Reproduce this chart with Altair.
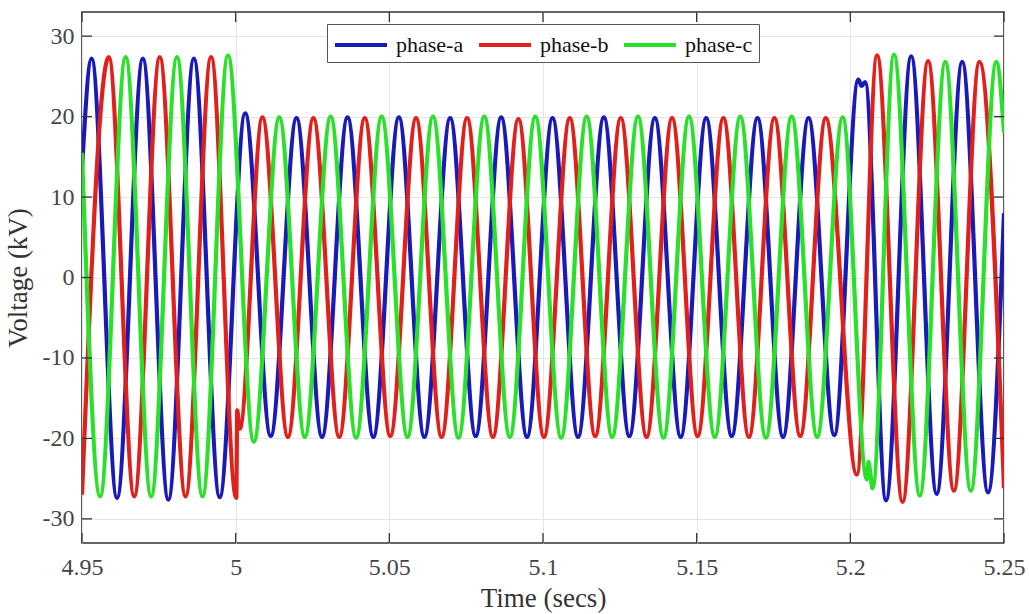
import altair as alt
import pandas as pd

PHASES = ["phase-a", "phase-b", "phase-c"]
COLORS = ["#1a1ab8", "#e0201c", "#2ae02a"]

# extremum points (time in s, voltage in kV)
A_T = [4.9500, 4.9531, 4.9614, 4.9698, 4.9781, 4.9864, 4.9948, 5.0031, 5.0114, 5.0198,
       5.0281, 5.0364, 5.0448, 5.0531, 5.0614, 5.0698, 5.0781, 5.0864, 5.0948, 5.1031,
       5.1114, 5.1198, 5.1281, 5.1364, 5.1448, 5.1531, 5.1614, 5.1698, 5.1781, 5.1864,
       5.1948, 5.2026, 5.2037, 5.2048, 5.2116, 5.2198, 5.2281, 5.2364, 5.2448, 5.2500]
A_V = [13.5, 27.2, -27.4, 27.2, -27.6, 27.2, -27.3, 20.4, -19.7, 19.8,
       -19.8, 19.9, -19.8, 19.9, -19.8, 19.8, -19.7, 19.9, -19.8, 19.8,
       -19.8, 19.9, -19.7, 19.8, -19.8, 19.8, -19.7, 19.8, -19.8, 19.8,
       -19.6, 24.6, 23.8, 24.3, -27.7, 27.5, -26.9, 26.8, -26.7, 8.0]

B_T = [4.9500, 4.9587, 4.9670, 4.9753, 4.9837, 4.9920, 5.0002, 5.0005, 5.0009, 5.0013,
       5.0087, 5.0170, 5.0253, 5.0337, 5.0420, 5.0503, 5.0587, 5.0670, 5.0753, 5.0837,
       5.0920, 5.1003, 5.1087, 5.1170, 5.1253, 5.1337, 5.1420, 5.1503, 5.1587, 5.1670,
       5.1753, 5.1837, 5.1920, 5.2021, 5.2087, 5.2170, 5.2253, 5.2337, 5.2420, 5.2500]
B_V = [-27.0, 27.4, -27.2, 27.4, -27.2, 27.4, -27.4, -16.5, -17.6, -18.8,
       19.9, -19.8, 19.8, -19.8, 19.8, -19.7, 19.8, -19.8, 19.8, -19.8,
       19.7, -19.8, 19.8, -19.7, 19.8, -19.8, 19.8, -19.7, 19.8, -19.8,
       19.8, -19.7, 19.8, -24.5, 27.6, -27.9, 26.9, -26.5, 26.8, -26.2]

C_T = [4.9500, 4.9559, 4.9642, 4.9725, 4.9809, 4.9892, 4.9975, 5.0059, 5.0142, 5.0225,
       5.0309, 5.0392, 5.0475, 5.0559, 5.0642, 5.0725, 5.0809, 5.0892, 5.0975, 5.1059,
       5.1142, 5.1225, 5.1309, 5.1392, 5.1475, 5.1559, 5.1642, 5.1725, 5.1809, 5.1892,
       5.1975, 5.2054, 5.2059, 5.2064, 5.2072, 5.2142, 5.2226, 5.2309, 5.2392, 5.2475, 5.2500]
C_V = [15.5, -27.2, 27.4, -27.2, 27.4, -27.2, 27.6, -20.4, 19.9, -19.8,
       20.0, -19.9, 20.0, -19.8, 20.0, -19.9, 20.0, -19.8, 20.0, -19.9,
       20.0, -19.8, 20.0, -19.9, 20.0, -19.8, 20.0, -19.9, 20.0, -19.8,
       19.9, -25.1, -22.9, -24.0, -26.2, 27.7, -27.1, 26.8, -26.5, 26.8, 18.0]

X_TICKS = [4.95, 5.0, 5.05, 5.1, 5.15, 5.2, 5.25]
Y_TICKS = [-30, -20, -10, 0, 10, 20, 30]
X_DOMAIN = [4.95, 5.25]
Y_DOMAIN = [-33, 33]

W, H = 922, 531
FONT = "Liberation Serif"

rows = []
for name, ts, vs in zip(PHASES, [A_T, B_T, C_T], [A_V, B_V, C_V]):
    for t, v in zip(ts, vs):
        rows.append({"t": t, "v": v, "phase": name})
df = pd.DataFrame(rows)

axis_style = dict(labelFont=FONT, labelFontSize=24, labelColor="#454545",
                  titleFont=FONT, titleFontSize=27, titleFontWeight="normal",
                  titleColor="#333", labelFlush=False,
                  labelExpr="toString(datum.value)")

xs = alt.Scale(domain=X_DOMAIN, nice=False, zero=False)
ys = alt.Scale(domain=Y_DOMAIN, nice=False, zero=False)
x_enc = alt.X("t:Q", scale=xs,
              axis=alt.Axis(values=X_TICKS, title="Time (secs)",
                            labelPadding=12, titlePadding=6, **axis_style))
y_enc = alt.Y("v:Q", scale=ys,
              axis=alt.Axis(values=Y_TICKS, title="Voltage (kV)",
                            labelPadding=8, titlePadding=10, **axis_style))

lines = alt.Chart(df).mark_line(strokeWidth=4.2, interpolate="monotone", clip=True).encode(
    x=x_enc,
    y=y_enc,
    color=alt.Color("phase:N", scale=alt.Scale(domain=PHASES, range=COLORS),
                    legend=alt.Legend(title=None, orient="none", legendX=245, legendY=12,
                                      direction="horizontal", symbolType="M-2,0H2",
                                      symbolSize=676, symbolStrokeWidth=3.8,
                                      symbolOffset=13,
                                      labelFont=FONT, labelFontSize=22, labelColor="#111",
                                      labelOffset=20, columnPadding=7, padding=6,
                                      strokeColor="#555", fillColor="white")),
)

xt = pd.DataFrame({"t": X_TICKS})
yt = pd.DataFrame({"v": Y_TICKS})
tick_style = dict(color="#333", strokeWidth=1.3)
top_ticks = alt.Chart(xt).mark_rule(**tick_style).encode(
    x=x_enc, y=alt.value(0), y2=alt.value(10))
bottom_ticks = alt.Chart(xt).mark_rule(**tick_style).encode(
    x=x_enc, y=alt.value(H), y2=alt.value(H - 10))
left_ticks = alt.Chart(yt).mark_rule(**tick_style).encode(
    y=y_enc, x=alt.value(0), x2=alt.value(10))
right_ticks = alt.Chart(yt).mark_rule(**tick_style).encode(
    y=y_enc, x=alt.value(W), x2=alt.value(W - 10))

chart = alt.layer(lines, top_ticks, bottom_ticks, left_ticks, right_ticks).properties(
    width=W, height=H,
    padding={"left": 82, "top": 12, "right": 25, "bottom": 71},
    autosize=alt.AutoSizeParams(type="none"),
    background="white",
).configure_view(stroke="#333", strokeWidth=1.6).configure_axis(
    grid=True, gridColor="#e4e4e4", gridWidth=1, ticks=False, tickSize=0, domain=False,
)

chart.save("out.html", embed_options={"renderer": "svg", "actions": False})
